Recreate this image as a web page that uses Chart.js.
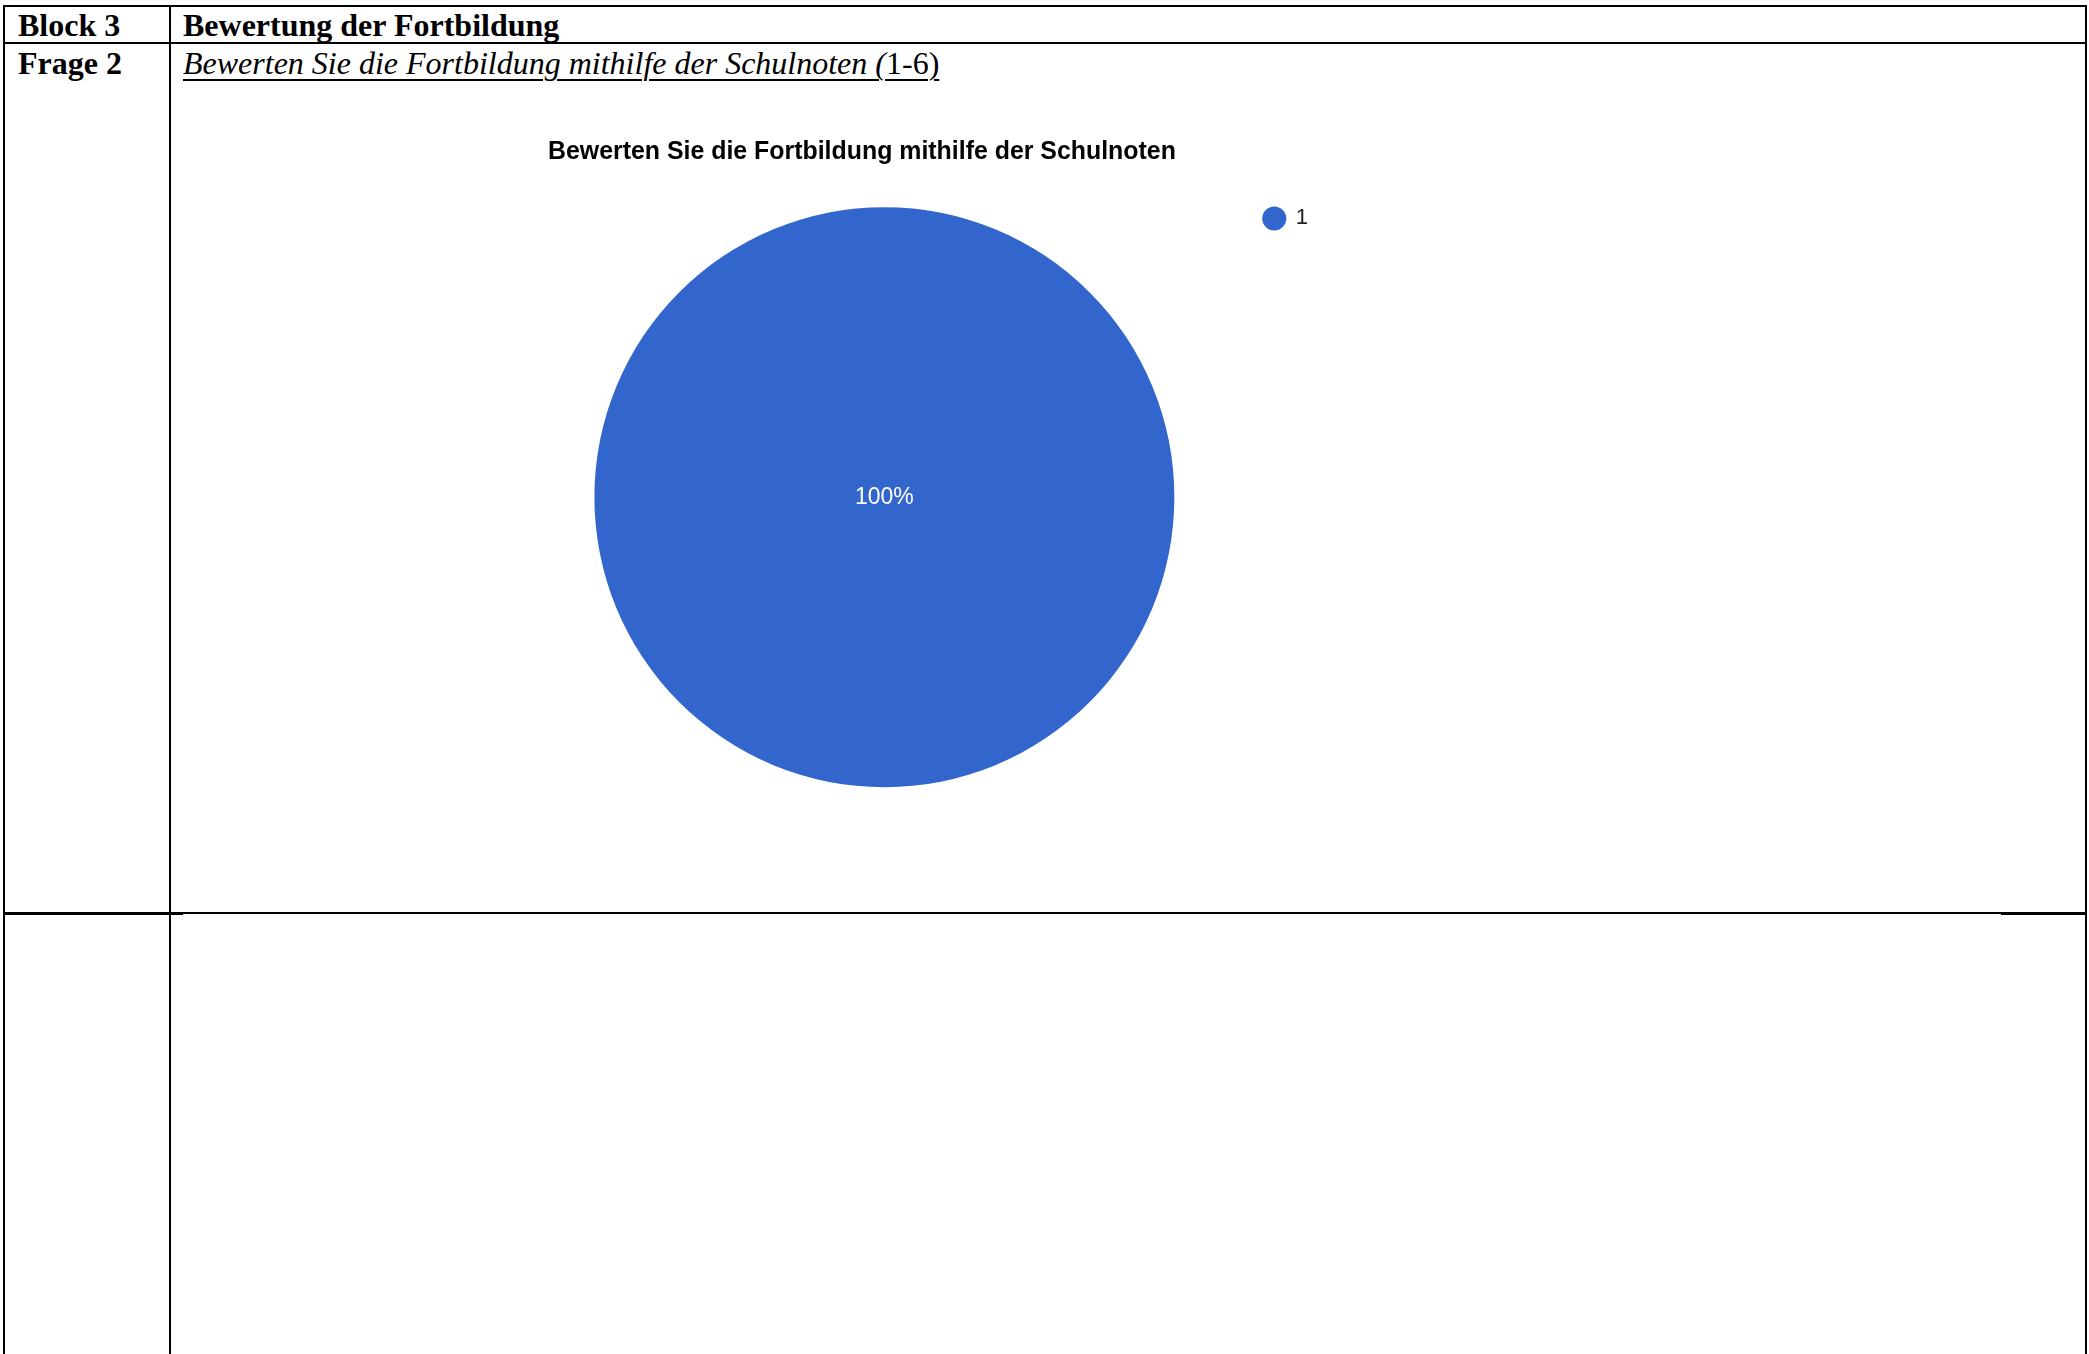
<!DOCTYPE html>
<html lang="de">
<head>
<meta charset="utf-8">
<title>Bewertung der Fortbildung</title>
<script src="https://cdn.jsdelivr.net/npm/chart.js@4.4.1/dist/chart.umd.min.js"></script>
<style>
  html, body { margin: 0; padding: 0; background: #fff; }
  body { width: 2089px; height: 1354px; position: relative; overflow: hidden; }
  .rule { position: absolute; background: #000; }
  .cell-text {
    position: absolute;
    font-family: "Liberation Serif", "Times New Roman", serif;
    font-size: 32px;
    line-height: 32px;
    color: #000;
    white-space: nowrap;
  }
  .bold { font-weight: bold; }
  .question { font-style: italic; text-decoration: underline; text-decoration-thickness: 2px; text-underline-offset: 5px; }
  .question .upright { font-style: normal; }
  #chartBox { position: absolute; left: 172px; top: 45px; width: 1912px; height: 866px; }
</style>
</head>
<body>
<!-- table rules -->
<div class="rule" style="left:3px;top:5px;width:2084px;height:2px"></div>
<div class="rule" style="left:3px;top:42px;width:2084px;height:2px"></div>
<div class="rule" style="left:3px;top:912px;width:2084px;height:2px"></div>
<div class="rule" style="left:3px;top:912px;width:180px;height:3px"></div>
<div class="rule" style="left:2001px;top:912px;width:86px;height:3px"></div>
<div class="rule" style="left:3px;top:5px;width:2px;height:1349px"></div>
<div class="rule" style="left:169px;top:5px;width:2px;height:1349px"></div>
<div class="rule" style="left:2085px;top:5px;width:2px;height:1349px"></div>

<div class="cell-text bold" style="left:18px;top:9px">Block 3</div>
<div class="cell-text bold" style="left:183px;top:9px">Bewertung der Fortbildung</div>
<div class="cell-text bold" style="left:18px;top:47px">Frage 2</div>
<div class="cell-text question" style="left:183px;top:47px">Bewerten Sie die Fortbildung mithilfe der Schulnoten (<span class="upright">1-6)</span></div>

<div id="chartBox"><canvas id="gradeChart" width="1912" height="866"></canvas></div>

<script>
const chartTitle = 'Bewerten Sie die Fortbildung mithilfe der Schulnoten'
const gradeLabels = ['1']
const gradeShares = [100]
const sliceColors = ['#3366cc']

// writes the percentage into each slice, a full circle gets it in the middle
const sliceLabelPlugin = {
  id: 'sliceLabels',
  afterDatasetsDraw (chart) {
    const ctx = chart.ctx
    const meta = chart.getDatasetMeta(0)
    const values = chart.data.datasets[0].data
    const total = values.reduce((sum, v) => sum + v, 0)
    ctx.save()
    ctx.fillStyle = '#ffffff'
    ctx.font = '23px "Liberation Sans", Arial, sans-serif'
    ctx.textAlign = 'center'
    ctx.textBaseline = 'middle'
    meta.data.forEach((arc, i) => {
      const share = Math.round(values[i] / total * 100)
      const full = arc.circumference >= Math.PI * 2 - 0.001
      const pos = full ? { x: arc.x, y: arc.y } : arc.tooltipPosition(true)
      ctx.fillText(share + '%', pos.x, pos.y)
    })
    ctx.restore()
  }
}

const ctx = document.getElementById('gradeChart').getContext('2d')

new Chart(ctx, {
  type: 'pie',
  data: {
    labels: gradeLabels,
    datasets: [
      {
        data: gradeShares,
        backgroundColor: sliceColors,
        borderWidth: 0,
        radius: 290
      }
    ]
  },
  options: {
    responsive: false,
    animation: false,
    devicePixelRatio: 1,
    layout: {
      padding: { left: 376, right: 766, top: 94.5, bottom: 81 }
    },
    plugins: {
      title: {
        display: true,
        text: chartTitle,
        align: 'start',
        color: '#000000',
        padding: { top: 0, bottom: 0 },
        font: { family: '"Liberation Sans", Arial, sans-serif', size: 24.9, weight: 'bold', lineHeight: 1 }
      },
      legend: {
        position: 'right',
        align: 'start',
        fullSize: false,
        labels: {
          usePointStyle: true,
          pointStyle: 'circle',
          boxWidth: 21,
          boxHeight: 17,
          padding: 43,
          color: '#222222',
          font: { family: '"Liberation Sans", Arial, sans-serif', size: 22 }
        }
      },
      tooltip: { enabled: false }
    }
  },
  plugins: [sliceLabelPlugin]
})
</script>
</body>
</html>
